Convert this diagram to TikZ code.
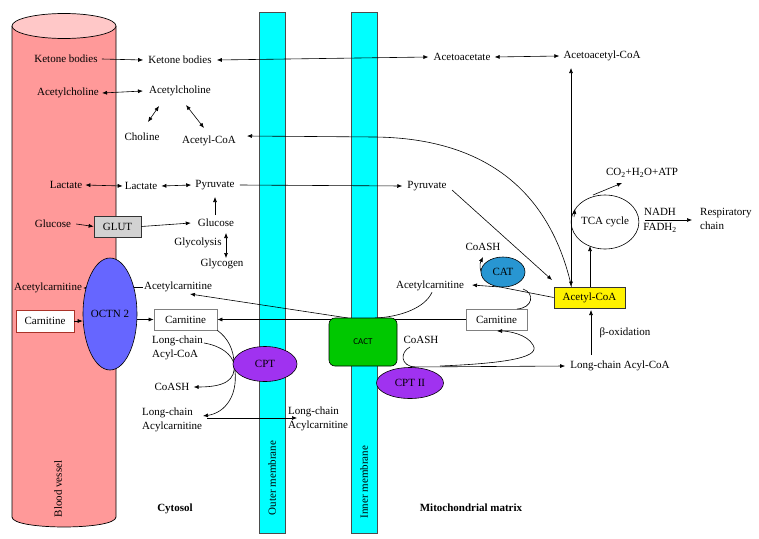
\documentclass[tikz,border=0pt]{standalone}
\usepackage{fontspec}
\setmainfont{Liberation Serif}
\newfontfamily\cactfont{Carlito}
\usetikzlibrary{arrows.meta,shapes.geometric,calc}
\definecolor{vessel}{RGB}{255,153,153}
\definecolor{vesseltop}{RGB}{255,200,200}
\definecolor{membr}{RGB}{0,255,255}
\definecolor{octncol}{RGB}{102,102,255}
\definecolor{cptcol}{RGB}{160,50,240}
\definecolor{catcol}{RGB}{40,150,210}
\definecolor{cactcol}{RGB}{0,200,0}
\definecolor{glutcol}{RGB}{210,210,210}
\definecolor{carVcol}{RGB}{170,50,40}
\begin{document}
\begin{tikzpicture}[x=1pt,y=-1pt,
  txt/.style={font=\fontsize{11}{12}\selectfont, inner sep=1pt, align=center},
  ltxt/.style={font=\fontsize{11}{14}\selectfont, inner sep=1pt, align=left},
  arr/.style={-{Latex[length=5pt,width=4pt]}, line width=0.6pt},
  darr/.style={{Latex[length=5pt,width=4pt]}-{Latex[length=5pt,width=4pt]}, line width=0.6pt},
  ln/.style={line width=0.6pt},
  boxg/.style={draw=gray, line width=0.7pt, fill=white, minimum width=63pt, minimum height=21pt, font=\fontsize{11}{12}\selectfont, inner sep=0pt},
  enz/.style={ellipse, draw=black, line width=0.6pt, inner sep=0pt, font=\fontsize{11}{12}\selectfont},
  membrane/.style={draw=black!70, fill=membr, line width=0.7pt},
  rot/.style={rotate=90, font=\fontsize{11}{12}\selectfont}
]
\useasboundingbox (0,0) rectangle (759,538);
% blood vessel
\fill[vessel, draw=black, line width=0.7pt] (12,26) -- (12,517) .. controls (12,530.3) and (116,530.3) .. (116,517) -- (116,26);
\draw[fill=vesseltop, line width=0.7pt] (64,26) ellipse [x radius=52pt, y radius=12.5pt];
\node[rot] (bv) at (58,489) {Blood vessel};
% membranes
\draw[membrane] (259,12) rectangle (285,533);
\draw[membrane] (351,12) rectangle (377,533);
\node[rot] (om) at (272,478) {Outer membrane};
\node[rot] (im) at (364,482) {Inner membrane};
\node[font=\bfseries\fontsize{11}{12}\selectfont] (cyto) at (175,509) {Cytosol};
\node[font=\bfseries\fontsize{11}{12}\selectfont] (mm) at (471,508) {Mitochondrial matrix};

% text nodes
\node[txt] (kbV) at (66,59) {Ketone bodies};
\node[txt] (kbC) at (180,60) {Ketone bodies};
\node[txt] (acac) at (462,57) {Acetoacetate};
\node[txt] (acacoa) at (602,56) {Acetoacetyl-CoA};
\node[txt] (achV) at (68,93) {Acetylcholine};
\node[txt] (achC) at (180,91) {Acetylcholine};
\node[txt] (chol) at (142,137) {Choline};
\node[txt] (acoaC) at (209,141) {Acetyl-CoA};
\node[txt] (lacV) at (66,185) {Lactate};
\node[txt] (lacC) at (141,186) {Lactate};
\node[txt] (pyrC) at (215,185) {Pyruvate};
\node[txt] (pyrM) at (427,186) {Pyruvate};
\node[txt] (gluV) at (53,224) {Glucose};
\node[draw=black!80, fill=glutcol, line width=0.7pt, minimum width=47pt, minimum height=21pt, inner sep=0pt, font=\fontsize{11}{12}\selectfont] (glut) at (117.5,226.5) {GLUT};
\node[txt] (gluC) at (216,223) {Glucose};
\node[txt] (glyco) at (198,243) {Glycolysis};
\node[txt] (glyg) at (222,264) {Glycogen};
\node[txt] (acV) at (48,288) {Acetylcarnitine};
\node[txt] (acC) at (178,287) {Acetylcarnitine};
\node[boxg, draw=carVcol, minimum width=58pt, minimum height=22pt] (carV) at (45,321) {Carnitine};
\node[boxg] (carC) at (185.5,319.5) {Carnitine};
\node[ltxt, anchor=west] (lcaC) at (151,348) {Long-chain\\Acyl-CoA};
\node[txt] (coashC) at (172,387) {CoASH};
\node[ltxt, anchor=west] (lcacC) at (141,420) {Long-chain\\Acylcarnitine};
\node[ltxt, anchor=west] (lcacI) at (287,418.5) {Long-chain\\Acylcarnitine};
\node[txt] (coashM) at (421,340) {CoASH};
\node[txt] (acM) at (430,286) {Acetylcarnitine};
\node[txt] (coashCat) at (483,247) {CoASH};
\node[boxg, minimum width=61pt] (carM) at (496.5,319.5) {Carnitine};
\node[draw=black!80, fill=yellow, line width=0.7pt, minimum width=71pt, minimum height=21pt, inner sep=0pt, font=\fontsize{11}{12}\selectfont] (acoaM) at (589.5,297.5) {Acetyl-CoA};
\node[enz, minimum width=64pt, minimum height=54pt] (tca) at (605,222) {TCA cycle};
\node[txt] (co2) at (642,173) {CO\textsubscript{2}+H\textsubscript{2}O+ATP};
\node[txt] (nadh) at (660,212) {NADH};
\node[txt] (fadh) at (660,228) {FADH\textsubscript{2}};
\node[ltxt, anchor=west] (resp) at (699,219) {Respiratory\\chain};
\node[txt] (box) at (625,333) {β-oxidation};
\node[txt] (lcaM) at (620,366) {Long-chain Acyl-CoA};

% connectors
\draw[arr] (kbV.east) ++(3,0) -- ([xshift=-4pt]kbC.west);
\draw[darr] ([xshift=4pt]kbC.east) -- ([xshift=-4pt]acac.west);
\draw[darr] ([xshift=3pt]acac.east) -- ([xshift=-3pt]acacoa.west);
\coordinate (vtop) at (571,68);
\draw[darr] (vtop) -- (vtop |- acoaM.north);
\draw[darr] ([xshift=2pt]achV.east) -- ([xshift=-5pt]achC.west);
\draw[darr] (148,122) -- (159,106);
\draw[darr] (186,105) -- (204,128);
\draw[arr] ([xshift=-18pt]acoaM.north) .. controls (545,170) and (460,138) .. (375,137) -- (247,136);
\draw[darr] ([xshift=2pt]lacV.east) -- ([xshift=-1pt]lacC.west);
\draw[darr] ([xshift=3pt]lacC.east) -- ([xshift=-3pt]pyrC.west);
\draw[arr] ([xshift=4pt]pyrC.east) -- ([xshift=-4pt]pyrM.west);
\draw[arr] (452,190) -- (552,280);
\draw[arr] (215,215) -- (215,197);
\draw[arr] ([xshift=4pt]gluV.east) -- (glut.west);
\draw[arr] (glut.east) -- ([xshift=-6pt]gluC.west);
\draw[darr] (226,233) -- (226,258);
\draw[arr] (95,288) -- (acV.east);
\draw[arr] (acC.west) -- (127,287);
\draw[arr] (348,318) -- (190,294);
\draw[ln] (acM.south) ++(2,0) .. controls (425,308) and (400,317) .. (375,318);
\draw[arr] (carM.west) -- (carC.east);
% CPT curves
\draw[ln] (carC.south east) .. controls (228,338) and (234,350) .. (234,364);
\draw[ln] (204,343) .. controls (222,346) and (232,355) .. (234,364);
\draw[arr] (234,364) .. controls (236,380) and (225,387) .. ([xshift=3pt]coashC.east);
\draw[arr] (234,364) .. controls (240,395) and (225,413) .. (203,416);
\draw[arr] (207,418) -- (297,418);
% CAT curves
\draw[arr] (acoaM.west) -- (500,287) -- (472,285);
\draw[arr] (486,279) .. controls (478,271) and (480,263) .. (483,257);
\draw[ln] (523,289) .. controls (535,293) and (533,308) .. (517,309);
% CPT II lines
\draw[arr] (410,367) -- ([xshift=-4pt]lcaM.west);
\draw[ln] (410,347) .. controls (400,352) and (400,366) .. (415,367);
\draw[arr] (440,366) .. controls (515,363) and (540,356) .. (533,345) .. controls (527,334) and (508,331) .. (497,331);
% TCA
\draw[arr] (590,287) -- (590,246);
\draw[arr] (574,217) -- (575,209);
\draw[arr] (593,195) -- (622,183);
\draw[arr] (645,220) -- (692,220);
\draw[arr] (591,355) -- (591,310);

% enzymes on top
\node[enz, fill=octncol, minimum width=46pt, minimum height=112pt] (octn) at (110,314) {OCTN 2};
\draw[arr] (carV.east) -- (octn.west |- carV.east);
\draw[arr] (octn.east |- carC.west) -- (carC.west);
\node[enz, fill=cptcol, minimum width=64pt, minimum height=35pt] (cpt) at (265,364) {CPT};
\node[draw=black, fill=cactcol, rounded corners=6pt, line width=0.6pt, minimum width=68pt, minimum height=48pt, font=\cactfont\fontsize{9}{10}\selectfont] (cact) at (363,342) {CACT};
\node[enz, fill=cptcol, minimum width=67pt, minimum height=31pt] (cpt2) at (410,383) {CPT II};
\node[enz, fill=catcol, minimum width=44pt, minimum height=30pt] (cat) at (503,272) {CAT};
\end{tikzpicture}
\end{document}
